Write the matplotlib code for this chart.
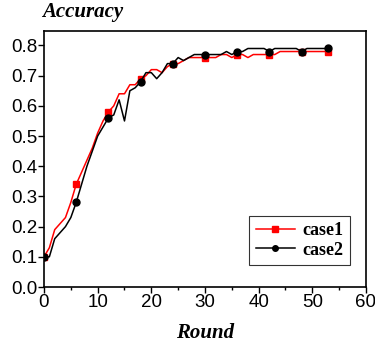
import numpy as np
import matplotlib
matplotlib.use("Agg")
import matplotlib.pyplot as plt

# =========================================================
# Dados
# =========================================================
rounds = list(range(54))

case1 = [0.10, 0.13, 0.19, 0.21, 0.23, 0.28, 0.34, 0.38, 0.42, 0.46,
         0.51, 0.55, 0.58, 0.60, 0.64, 0.64, 0.67, 0.67, 0.69, 0.70,
         0.72, 0.72, 0.71, 0.73, 0.74, 0.74, 0.75, 0.76, 0.76, 0.76,
         0.76, 0.76, 0.76, 0.77, 0.77, 0.76, 0.77, 0.77, 0.76, 0.77,
         0.77, 0.77, 0.77, 0.77, 0.78, 0.78, 0.78, 0.78, 0.78, 0.78,
         0.78, 0.78, 0.78, 0.78]

case2 = [0.10, 0.10, 0.16, 0.18, 0.20, 0.23, 0.28, 0.34, 0.40, 0.45,
         0.50, 0.53, 0.56, 0.57, 0.62, 0.55, 0.65, 0.66, 0.68, 0.71,
         0.71, 0.69, 0.71, 0.74, 0.74, 0.76, 0.75, 0.76, 0.77, 0.77,
         0.77, 0.77, 0.77, 0.77, 0.78, 0.77, 0.78, 0.78, 0.79, 0.79,
         0.79, 0.79, 0.78, 0.79, 0.79, 0.79, 0.79, 0.79, 0.78, 0.79,
         0.79, 0.79, 0.79, 0.79]

marker_idx = [0, 6, 12, 18, 24, 30, 36, 42, 48, 53]

x_ticks = [0, 10, 20, 30, 40, 50, 60]
y_ticks = [0.0, 0.1, 0.2, 0.3, 0.4, 0.5, 0.6, 0.7, 0.8]

# =========================================================
# Gráfico
# =========================================================
fig = plt.figure(figsize=(3.75, 3.47), dpi=100)
ax = fig.add_axes([0.1173, 0.1729, 0.8587, 0.7378])

ax.plot(rounds, case1, color='red', lw=1.1, marker='s', ms=5,
        markevery=marker_idx, label='case1')
ax.plot(rounds, case2, color='black', lw=1.1, marker='o', ms=5,
        markevery=marker_idx, label='case2')

ax.set_xlim(0, 60)
ax.set_ylim(0, 0.848)
ax.set_xticks(x_ticks)
ax.set_xticks([5, 15, 25, 35, 45, 55], minor=True)
ax.set_yticks(y_ticks)
ax.set_yticklabels([f"{v:.1f}" for v in y_ticks])

for lab in ax.get_xticklabels() + ax.get_yticklabels():
    lab.set_fontfamily('Liberation Sans')
    lab.set_fontsize(13.5)

ax.tick_params(which='major', direction='out', length=4, width=1, pad=1)
ax.tick_params(which='minor', direction='out', length=2, width=1)
for s in ax.spines.values():
    s.set_linewidth(1.2)

ax.set_xlabel('Round', fontfamily='Liberation Serif', fontweight='bold',
              fontstyle='italic', fontsize=15, labelpad=9)
fig.text(0.113, 0.965, 'Accuracy', fontfamily='Liberation Serif',
         fontweight='bold', fontstyle='italic', fontsize=15, va='center')

leg = ax.legend(loc='lower right', bbox_to_anchor=(0.95, 0.086),
                borderaxespad=0,
                prop={'family': 'Liberation Serif', 'weight': 'bold', 'size': 13},
                frameon=True, fancybox=False, edgecolor='black',
                handlelength=2.2, handletextpad=0.4, borderpad=0.35,
                labelspacing=0.15, markerscale=0.8)
leg.get_frame().set_linewidth(0.8)

fig.savefig('out.png', dpi=100)
